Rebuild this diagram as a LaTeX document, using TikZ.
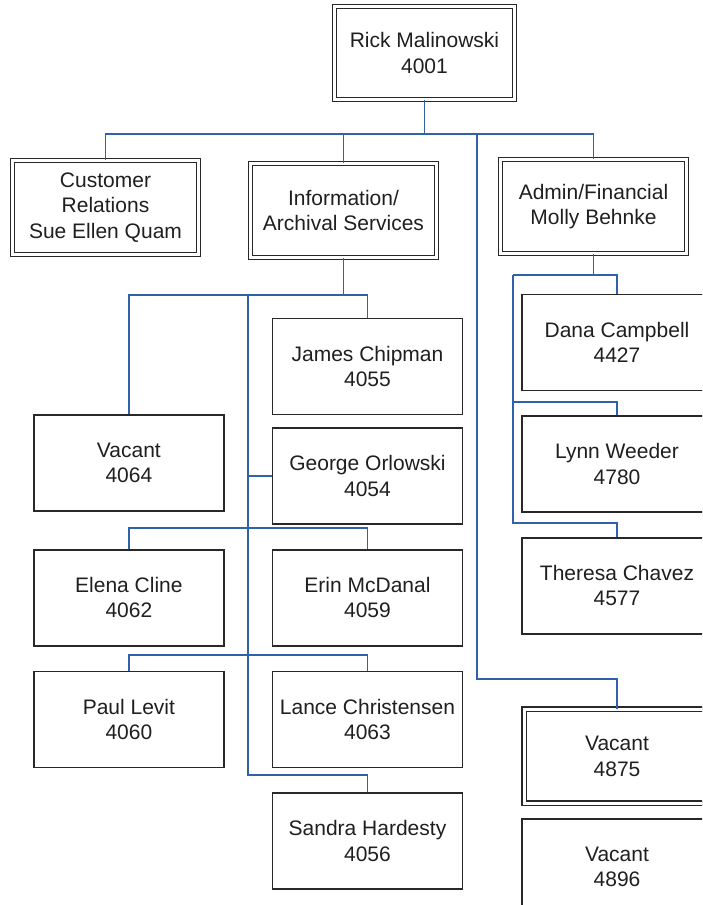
\documentclass[tikz,border=0pt]{standalone}
\usepackage{fontspec}
\setmainfont{Liberation Sans}
\usetikzlibrary{positioning}
\definecolor{orgBlue}{RGB}{47,98,168}
\definecolor{lineGray}{RGB}{40,40,40}

\begin{document}
\begin{tikzpicture}[x=0.5pt,y=-0.5pt,
        box/.style={draw=lineGray,line width=0.8pt,minimum width=95pt,minimum height=48pt,inner sep=2pt,align=center,text=black!88,font=\fontsize{10.5}{12.75}\selectfont},
        dbox/.style={box,double=white,double distance=1.5pt,line width=0.7pt,minimum width=93pt,minimum height=47pt},
        link/.style={draw=orgBlue,line width=0.85pt}
      ]
        \useasboundingbox (0,0) rectangle (702,905);
        \clip (0,0) rectangle (702,905);
        % top level
        \node[dbox,minimum width=90pt,minimum height=46.5pt] (rick) at (424.5,53) {Rick Malinowski\\4001};
        \node[dbox] (cust) at (105.5,207.5) {Customer\\Relations\\Sue Ellen Quam};
        \node[dbox] (info) at (343.5,210.5) {Information/\\Archival Services};
        \node[dbox] (admin) at (593.5,206.5) {Admin/Financial\\Molly Behnke};
        % information / archival
        \node[box] (james) at (367.5,366.5) {James Chipman\\4055};
        \node[box,below=6pt of james] (george) {George Orlowski\\4054};
        \node[box,below=12pt of george] (erin) {Erin McDanal\\4059};
        \node[box,below=12pt of erin] (lance) {Lance Christensen\\4063};
        \node[box,below=12pt of lance] (sandra) {Sandra Hardesty\\4056};
        \node[box,left=23.5pt of erin] (elena) {Elena Cline\\4062};
        \node[box,left=23.5pt of lance] (paul) {Paul Levit\\4060};
        \node[box,above=18.5pt of elena] (vac64) {Vacant\\4064};
        % admin / financial
        \node[box] (dana) at (617,342.5) {Dana Campbell\\4427};
        \node[box,below=12pt of dana] (lynn) {Lynn Weeder\\4780};
        \node[box,below=12pt of lynn] (theresa) {Theresa Chavez\\4577};
        \node[dbox,below=37pt of theresa] (vac75) {Vacant\\4875};
        \node[box,below=7pt of vac75] (vac96) {Vacant\\4896};
        % connectors
        \coordinate (topbus) at (424.5,134);
        \coordinate (trunk) at (477,679);
        \draw[link] (rick.south) -- (topbus);
        \draw[link] (cust.north) |- (topbus) -| (admin.north);
        \draw[link] (topbus) -| (info.north);
        \draw[link] (topbus) -| (trunk) -| (vac75.north);
        \coordinate (infobus) at (343.5,295);
        \coordinate (spine) at (248,295);
        \coordinate (spineEnd) at (248,775);
        \coordinate (row2) at (248,528);
        \coordinate (row3) at (248,655);
        \draw[link] (info.south) -- (infobus);
        \draw[link] (vac64.north) |- (infobus) -| (james.north);
        \draw[link] (spine) -- (spineEnd) -| (sandra.north);
        \draw[link] (george.west) -- (george.west -| spine);
        \draw[link] (elena.north) |- (row2) -| (erin.north);
        \draw[link] (paul.north) |- (row3) -| (lance.north);
        \coordinate (adminbus) at (513,275);
        \coordinate (adminMid) at (513,402);
        \coordinate (adminEnd) at (513,523);
        \draw[link] (admin.south) |- (adminbus);
        \draw[link] (adminbus) -| (dana.north);
        \draw[link] (adminMid) -| (lynn.north);
        \draw[link] (adminbus) -- (adminEnd) -| (theresa.north);
      \end{tikzpicture}
\end{document}
